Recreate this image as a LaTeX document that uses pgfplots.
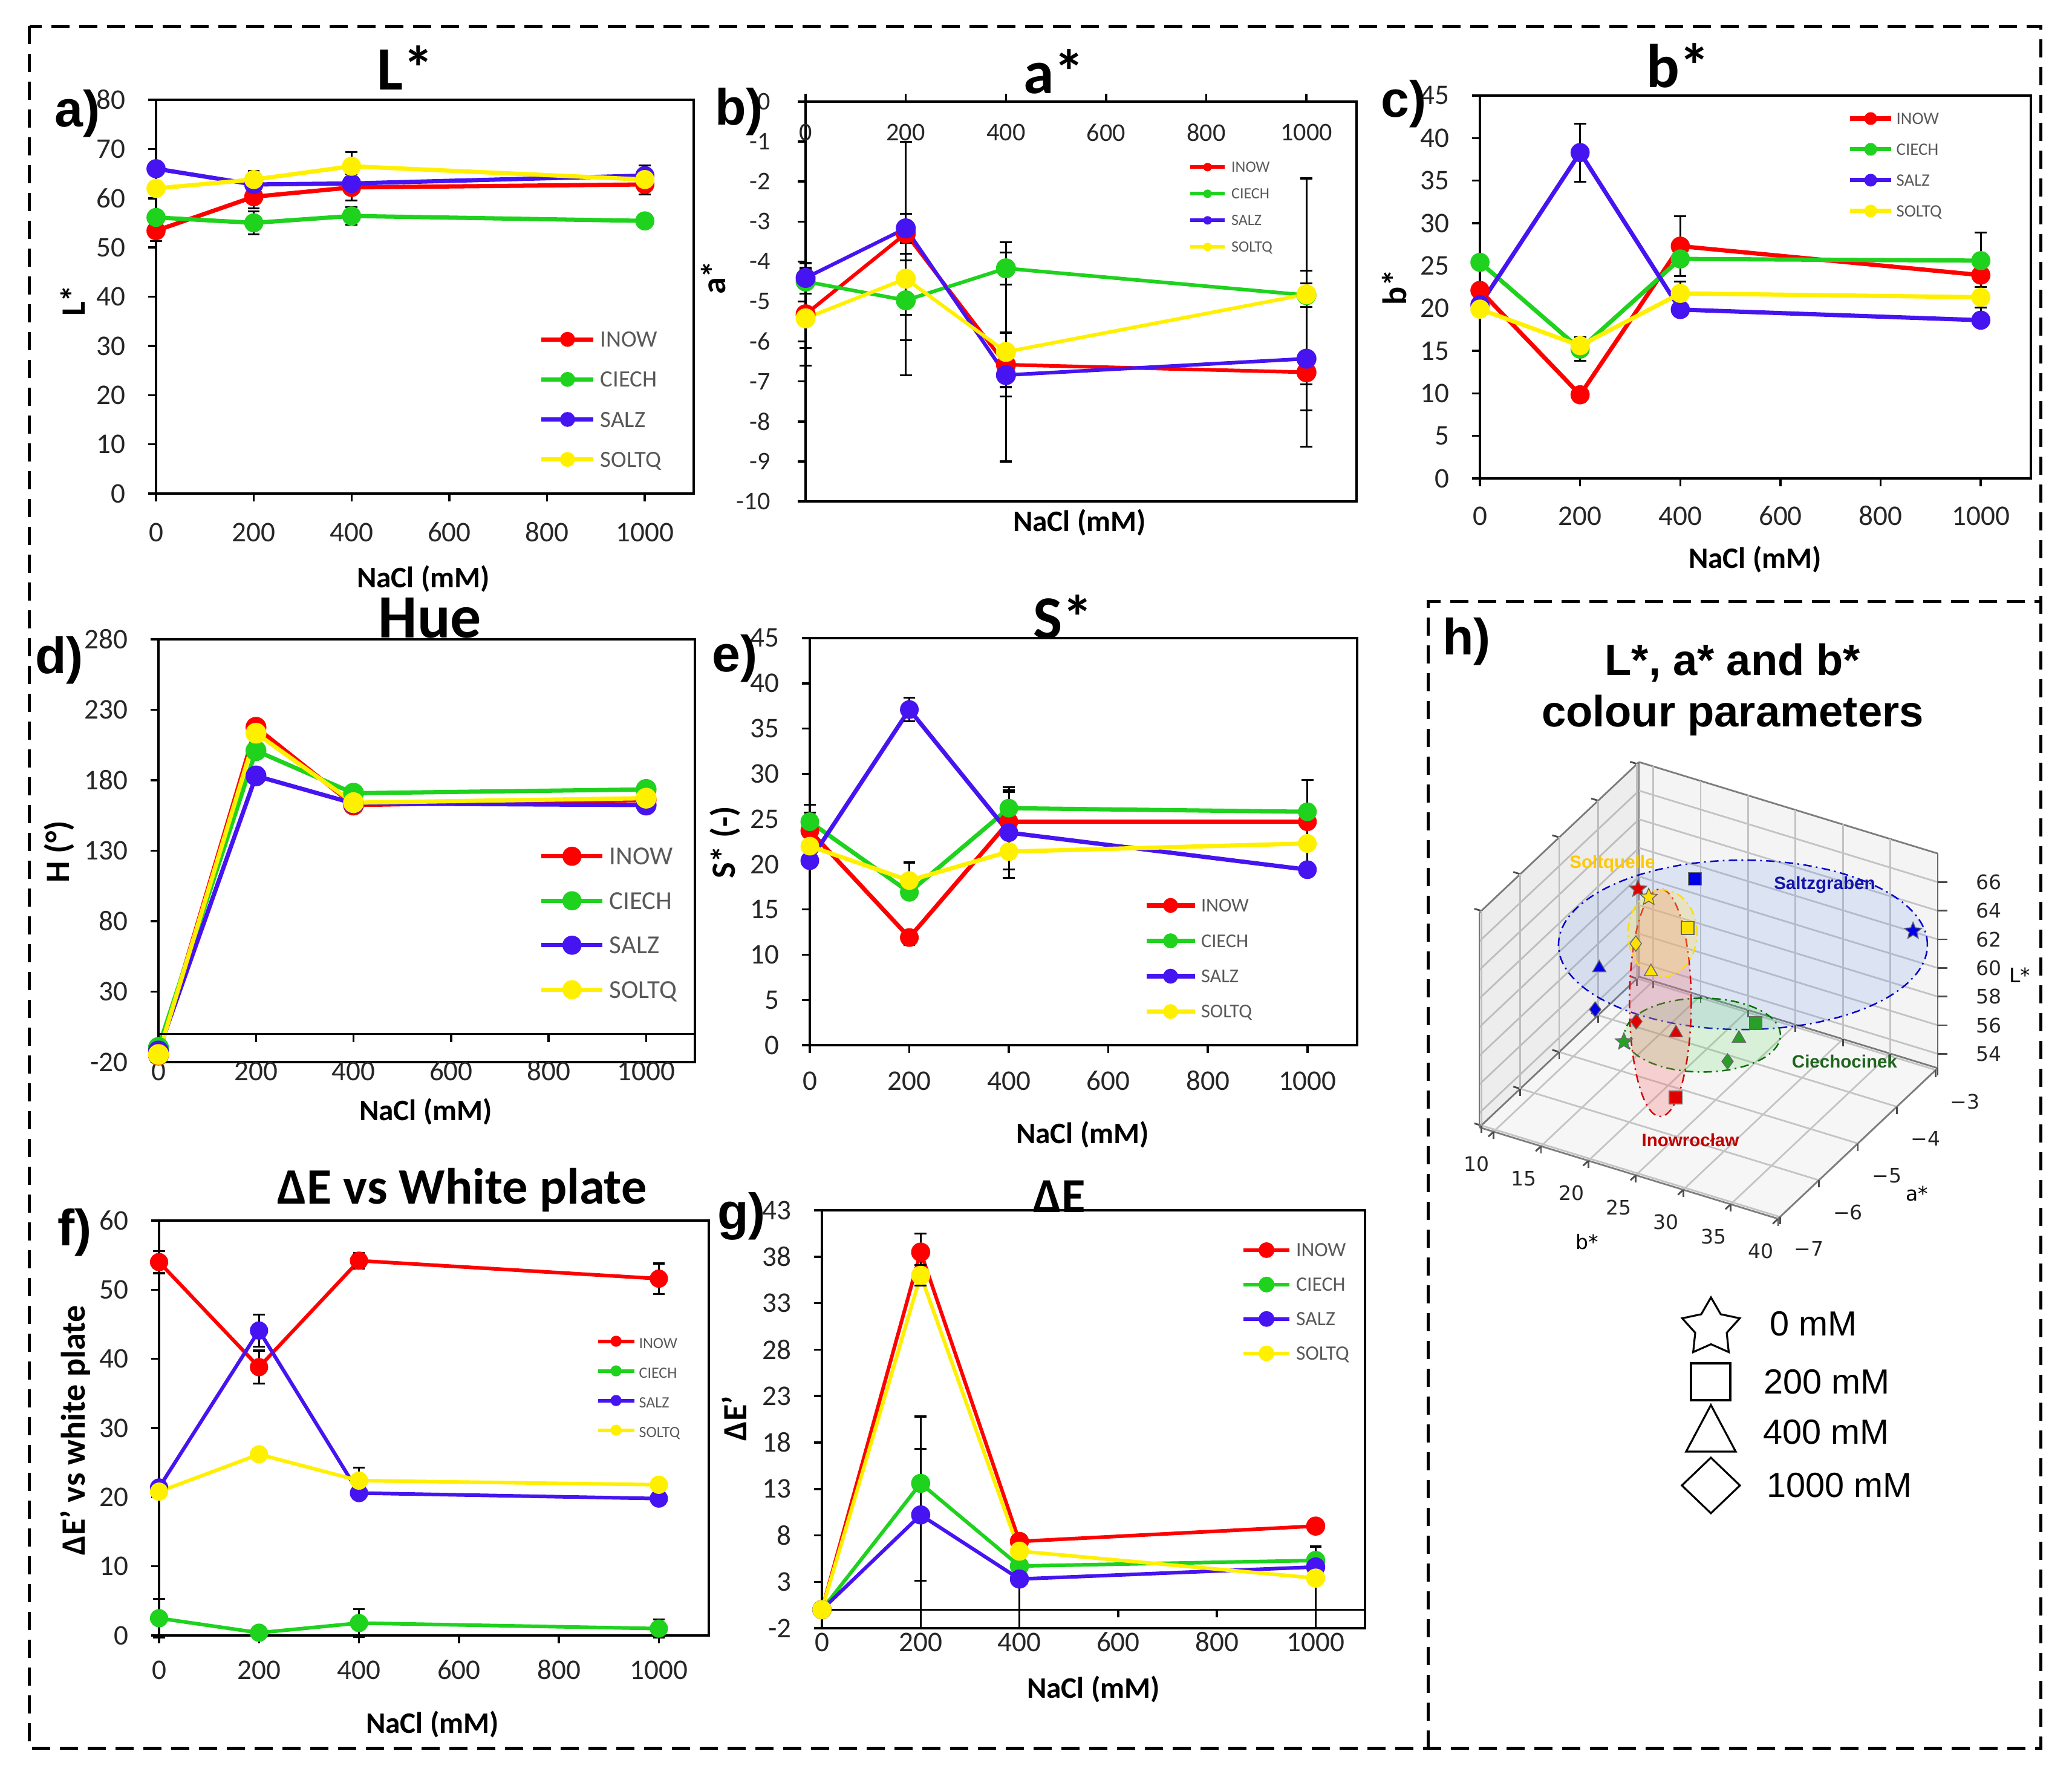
\documentclass[border=0pt]{standalone}
\usepackage{fontspec}
\setmainfont{Carlito}
\newfontfamily\arialfont{Liberation Sans}
\newfontfamily\dvfont{DejaVu Sans}
\usepackage{pgfplots}
\pgfplotsset{compat=1.18}
\usetikzlibrary{plotmarks}
\newcommand{\fs}[1]{\fontsize{#1}{#1}\selectfont}

\definecolor{cI}{RGB}{255,0,0}
\definecolor{cC}{RGB}{30,210,30}
\definecolor{cS}{RGB}{70,20,240}
\definecolor{cQ}{RGB}{255,240,0}
\definecolor{hR}{RGB}{225,0,0}
\definecolor{hG}{RGB}{40,160,40}
\definecolor{hB}{RGB}{0,0,230}
\definecolor{hY}{RGB}{255,225,0}

\pgfdeclareplotmark{fstar}{%
  \pgfpathmoveto{\pgfpointpolar{90}{\pgfplotmarksize}}%
  \pgfpathlineto{\pgfpointpolar{126}{0.45\pgfplotmarksize}}%
  \pgfpathlineto{\pgfpointpolar{162}{\pgfplotmarksize}}%
  \pgfpathlineto{\pgfpointpolar{198}{0.45\pgfplotmarksize}}%
  \pgfpathlineto{\pgfpointpolar{234}{\pgfplotmarksize}}%
  \pgfpathlineto{\pgfpointpolar{270}{0.45\pgfplotmarksize}}%
  \pgfpathlineto{\pgfpointpolar{306}{\pgfplotmarksize}}%
  \pgfpathlineto{\pgfpointpolar{342}{0.45\pgfplotmarksize}}%
  \pgfpathlineto{\pgfpointpolar{18}{\pgfplotmarksize}}%
  \pgfpathlineto{\pgfpointpolar{54}{0.45\pgfplotmarksize}}%
  \pgfpathclose
  \pgfusepathqfillstroke}

\pgfplotsset{
  sI/.style={color=cI, mark=*, mark options={solid, fill=cI, draw=cI, line width=0.3pt}},
  sC/.style={color=cC, mark=*, mark options={solid, fill=cC, draw=cC, line width=0.3pt}},
  sS/.style={color=cS, mark=*, mark options={solid, fill=cS, draw=cS, line width=0.3pt}},
  sQ/.style={color=cQ, mark=*, mark options={solid, fill=cQ, draw=cQ, line width=0.3pt}},
  panel/.style={
    scale only axis, clip=false, anchor=south west,
    xmin=0, xmax=1100, xtick={0,200,...,1000},
    tick pos=left, tick align=outside, major tick length=0.65mm,
    axis line style={line width=0.5pt}, tick style={line width=0.5pt, black},
    /pgf/number format/assume math mode=true, /pgf/number format/1000 sep={},
    tick label style={font=\fs{6.7}, text=black!85, inner sep=0pt},
    xticklabel style={anchor=center},
    yticklabel style={anchor=east, xshift=-1.8mm},
    every axis plot/.append style={line width=1pt, mark size=2.1pt},
    error bars/y dir=both, error bars/y explicit,
    error bars/error bar style={black, line width=0.45pt, solid},
    error bars/error mark options={rotate=90, mark size=1.4pt, black, line width=0.45pt},
    legend cell align=left,
  },
  leg/.style n args={8}{
    legend style={at={(#1,#2)}, anchor=north west, draw=none, fill=none,
      inner sep=0pt, outer sep=0pt, row sep=#3, column sep=#4, font=\fs{#5},
      nodes={inner sep=0pt, text height=#6, text depth=0pt, text=black!65}},
    legend image code/.code={\draw[mark repeat=2, mark phase=2, ##1]
      plot coordinates {(0,0) (#7,0) (2*#7,0)};},
    legend image post style={mark size=#8},
  },
  hm/.style n args={3}{only marks, mark=#1, mark size=#2, mark options={fill=#3, draw=black!60, line width=0.2pt}},
}

\begin{document}
\begin{tikzpicture}
\useasboundingbox (0,0) rectangle (171.3mm,-146.85mm);

% a) L*
\begin{axis}[panel, at={(12.9mm,-40.8mm)}, width=44.45mm, height=32.55mm,
  ymin=0, ymax=80, ytick={0,10,...,80}, xticklabel style={yshift=-2.55mm},
  leg={0.713}{0.411}{2.05mm}{0.4mm}{5.5}{1.26mm}{2.15mm}{1.6pt}]
\addplot[sI] coordinates {(0,53.4) +- (0,2.1) (200,60.3) +- (0,2.4) (400,62.2) +- (0,2.7) (1000,62.8) +- (0,2.0)};
\addlegendentry{INOW}
\addplot[sC] coordinates {(0,56.1) +- (0,0.5) (200,55.0) +- (0,2.3) (400,56.4) +- (0,1.8) (1000,55.4) +- (0,0.3)};
\addlegendentry{CIECH}
\addplot[sS] coordinates {(0,66.0) +- (0,0.4) (200,62.8) +- (0,0.5) (400,63.0) +- (0,0.5) (1000,64.6) +- (0,2.1)};
\addlegendentry{SALZ}
\addplot[sQ] coordinates {(0,62.0) +- (0,0.5) (200,63.8) +- (0,1.7) (400,66.5) +- (0,2.9) (1000,63.8) +- (0,1.0)};
\addlegendentry{SOLTQ}
\end{axis}

% b) a*
\begin{axis}[panel, at={(66.6mm,-41.45mm)}, width=45.55mm, height=33.05mm,
  ymin=-10, ymax=0, ytick={-10,-9,...,0},
  xtick pos=right, xticklabel pos=right, xticklabel style={yshift=-3.2mm},
  yticklabel style={xshift=-0.4mm},
  tick label style={font=\fs{6.0}},
  every axis plot/.append style={line width=0.85pt, mark size=2.2pt},
  leg={0.695}{0.849}{1.35mm}{0.4mm}{3.7}{0.85mm}{1.425mm}{0.85pt}]
\addplot[sI] coordinates {(0,-5.32) +- (0,1.28) (200,-3.30) +- (0,0.5) (400,-6.58) +- (0,0.8) (1000,-6.77) +- (0,0.3)};
\addlegendentry{INOW}
\addplot[sC] coordinates {(0,-4.50) +- (0,0.3) (200,-4.97) +- (0,1.0) (400,-4.17) +- (0,0.4) (1000,-4.84) +- (0,0.3)};
\addlegendentry{CIECH}
\addplot[sS] coordinates {(0,-4.41) +- (0,0.25) (200,-3.17) += (0,2.17) -= (0,3.68) (400,-6.84) +- (0,0.3) (1000,-6.43) +- (0,2.2)};
\addlegendentry{SALZ}
\addplot[sQ] coordinates {(0,-5.42) +- (0,0.75) (200,-4.43) +- (0,0.9) (400,-6.26) +- (0,2.74) (1000,-4.82) +- (0,2.9)};
\addlegendentry{SOLTQ}
\end{axis}

% c) b*
\begin{axis}[panel, at={(122.35mm,-39.55mm)}, width=45.55mm, height=31.65mm,
  ymin=0, ymax=45, ytick={0,5,...,45}, xticklabel style={yshift=-2.45mm},
  leg={0.668}{0.955}{1.6mm}{0.25mm}{4.1}{0.94mm}{1.7mm}{1.35pt}]
\addplot[sI] coordinates {(0,22.1) +- (0,0.5) (200,9.83) +- (0,0.5) (400,27.3) +- (0,3.5) (1000,23.9) +- (0,5.0)};
\addlegendentry{INOW}
\addplot[sC] coordinates {(0,25.4) +- (0,0.4) (200,15.2) +- (0,1.4) (400,25.8) +- (0,0.4) (1000,25.6) +- (0,0.4)};
\addlegendentry{CIECH}
\addplot[sS] coordinates {(0,20.4) +- (0,0.3) (200,38.3) +- (0,3.4) (400,19.85) +- (0,0.3) (1000,18.6) +- (0,0.3)};
\addlegendentry{SALZ}
\addplot[sQ] coordinates {(0,19.9) +- (0,0.4) (200,15.6) +- (0,0.5) (400,21.75) +- (0,1.4) (1000,21.3) +- (0,1.2)};
\addlegendentry{SOLTQ}
\end{axis}

% d) Hue
\begin{axis}[panel, at={(13.1mm,-87.8mm)}, width=44.35mm, height=34.95mm,
  ymin=-20, ymax=280, ytick={-20,30,...,280}, xtick style={draw=none},
  xticklabel style={yshift=-0.1mm}, error bars/y dir=none,
  every axis plot/.append style={mark size=2.3pt},
  leg={0.710}{0.508}{2.2mm}{0.4mm}{6.1}{1.4mm}{2.525mm}{2.1pt}]
\addplot[sI] coordinates {(0,-15) (200,217.6) (400,162.4) (1000,166)};
\addlegendentry{INOW}
\addplot[sC] coordinates {(0,-9.6) (200,201) (400,170.8) (1000,173.5)};
\addlegendentry{CIECH}
\addplot[sS] coordinates {(0,-12.1) (200,183.1) (400,163.6) (1000,162.4)};
\addlegendentry{SALZ}
\addplot[sQ] coordinates {(0,-14.6) (200,213.4) (400,164.1) (1000,167.3)};
\addlegendentry{SOLTQ}
\draw[line width=0.5pt] (axis cs:0,0) -- (axis cs:1100,0);
\pgfplotsinvokeforeach{0,200,400,600,800,1000}{\draw[line width=0.5pt] (axis cs:#1,0) -- (axis cs:#1,-5.6);}
\end{axis}

% e) S*
\begin{axis}[panel, at={(66.95mm,-86.4mm)}, width=45.25mm, height=33.65mm,
  ymin=0, ymax=45, ytick={0,5,...,45}, xticklabel style={yshift=-2.3mm},
  every axis plot/.append style={mark size=2.05pt},
  leg={0.611}{0.360}{1.8mm}{0.35mm}{4.6}{1.05mm}{2mm}{1.6pt}]
\addplot[sI] coordinates {(0,23.7) +- (0,2.9) (200,11.9) +- (0,0.8) (400,24.7) +- (0,3.5) (1000,24.7) +- (0,4.6)};
\addlegendentry{INOW}
\addplot[sC] coordinates {(0,24.7) +- (0,1.0) (200,16.9) +- (0,0.6) (400,26.2) +- (0,1.8) (1000,25.8) +- (0,0.4)};
\addlegendentry{CIECH}
\addplot[sS] coordinates {(0,20.4) +- (0,0.3) (200,37.1) +- (0,1.3) (400,23.5) +- (0,5.0) (1000,19.4) +- (0,0.6)};
\addlegendentry{SALZ}
\addplot[sQ] coordinates {(0,22.0) +- (0,0.5) (200,18.2) +- (0,2.0) (400,21.4) +- (0,2.0) (1000,22.3) +- (0,0.5)};
\addlegendentry{SOLTQ}
\end{axis}

% f) Delta E vs white plate
\begin{axis}[panel, at={(13.15mm,-135.2mm)}, width=45.45mm, height=34.3mm,
  ymin=0, ymax=60, ytick={0,10,...,60}, xticklabel style={yshift=-2.2mm},
  every axis plot/.append style={line width=0.85pt, mark size=2pt},
  leg={0.795}{0.721}{1.45mm}{0.25mm}{3.7}{0.85mm}{1.5mm}{1.15pt}]
\addplot[sI] coordinates {(0,54.0) +- (0,1.6) (200,38.8) +- (0,2.4) (400,54.2) +- (0,1.1) (1000,51.6) +- (0,2.2)};
\addlegendentry{INOW}
\addplot[sC] coordinates {(0,2.5) +- (0,2.8) (200,0.4) +- (0,0.3) (400,1.8) +- (0,2.0) (1000,1.0) +- (0,1.3)};
\addlegendentry{CIECH}
\addplot[sS] coordinates {(0,21.4) +- (0,0.3) (200,44.1) +- (0,2.3) (400,20.6) +- (0,0.3) (1000,19.8) +- (0,0.3)};
\addlegendentry{SALZ}
\addplot[sQ] coordinates {(0,20.8) +- (0,0.3) (200,26.2) +- (0,0.5) (400,22.4) +- (0,1.9) (1000,21.8) +- (0,0.5)};
\addlegendentry{SOLTQ}
\end{axis}

% g) Delta E
\begin{axis}[panel, at={(67.95mm,-134.6mm)}, width=44.9mm, height=34.55mm,
  ymin=-2, ymax=43, ytick={-2,3,...,43}, xtick style={draw=none},
  xticklabel style={yshift=-0.5mm},
  every axis plot/.append style={line width=0.85pt, mark size=2.1pt},
  leg={0.773}{0.922}{1.65mm}{0.4mm}{4.8}{1.1mm}{1.9mm}{1.7pt}]
\addplot[sI] coordinates {(0,0) (200,38.5) +- (0,2.0) (400,7.35) +- (0,0.5) (1000,9.0) +- (0,0.5)};
\addlegendentry{INOW}
\addplot[sC] coordinates {(0,0) (200,13.6) += (0,7.2) -= (0,15.6) (400,4.7) +- (0,0.5) (1000,5.3) +- (0,0.5)};
\addlegendentry{CIECH}
\addplot[sS] coordinates {(0,0) (200,10.2) +- (0,7.1) (400,3.3) += (0,0.4) -= (0,5.3) (1000,4.6) +- (0,0.5)};
\addlegendentry{SALZ}
\addplot[sQ] coordinates {(0,0) (200,36.0) +- (0,1.1) (400,6.3) +- (0,0.5) (1000,3.4) += (0,3.4) -= (0,5.4)};
\addlegendentry{SOLTQ}
\draw[line width=0.5pt] (axis cs:0,0) -- (axis cs:1100,0);
\pgfplotsinvokeforeach{0,200,400,600,800,1000}{\draw[line width=0.5pt] (axis cs:#1,0) -- (axis cs:#1,-0.85);}
\end{axis}

% h) 3D scatter of b*, a*, L*
\begin{axis}[name=h3d, clip=false,
  at={(122.3mm,-100.75mm)}, anchor=south west,
  x={(0.784mm,-0.240mm)}, y={(3.220mm,3.037mm)}, z={(0mm,1.183mm)},
  xmin=8.5, xmax=40, ymin=-7.05, ymax=-2.95, zmin=53, zmax=68,
  xtick={10,15,...,40}, ytick={-7,-6,...,-3}, ztick={54,56,...,66},
  yticklabels={−7,−6,−5,−4,−3}, zticklabels={},
  tick pos=left, ztick style={draw=none},
  grid=major, major grid style={black!20, line width=0.4pt},
  axis line style={black!50, line width=0.4pt},
  tick style={black!70, line width=0.4pt}, major tick length=0.6mm, tick align=outside,
  /pgf/number format/assume math mode=true,
  tick label style={font=\dvfont\fs{4.7}, text=black!85},
]
% panes
\fill[black, fill opacity=0.07] (axis cs:8.5,-7.05,53) -- (axis cs:8.5,-2.95,53) -- (axis cs:8.5,-2.95,68) -- (axis cs:8.5,-7.05,68) -- cycle;
\fill[black, fill opacity=0.045] (axis cs:8.5,-2.95,53) -- (axis cs:40,-2.95,53) -- (axis cs:40,-2.95,68) -- (axis cs:8.5,-2.95,68) -- cycle;
\fill[black, fill opacity=0.035] (axis cs:8.5,-7.05,53) -- (axis cs:40,-7.05,53) -- (axis cs:40,-2.95,53) -- (axis cs:8.5,-2.95,53) -- cycle;
% z axis on the right back edge
\draw[black!60, line width=0.4pt] (axis cs:40,-2.95,53) -- (axis cs:40,-2.95,68);
\pgfplotsinvokeforeach{54,56,58,60,62,64,66}{%
  \draw[black!70, line width=0.4pt] (axis cs:40,-2.95,#1) -- ([xshift=0.8mm]axis cs:40,-2.95,#1);
  \node[font=\dvfont\fs{4.7}, text=black!85, anchor=west, inner sep=0pt, xshift=3.1mm] at (axis cs:40,-2.95,#1) {#1};}
% cluster outlines
\draw[fill={rgb,255:red,110;green,150;blue,235}, fill opacity=0.18, draw=blue!80!black,
  line width=0.35pt, dash pattern=on 2pt off 1pt on 0.4pt off 1pt] (axis cs:22.54,-3.70,60) ellipse [x radius=15.25mm, y radius=7mm];
\draw[fill={rgb,255:red,90;green,215;blue,90}, fill opacity=0.2, draw=green!45!black,
  line width=0.35pt, dash pattern=on 2pt off 1pt on 0.4pt off 1pt] (axis cs:26.93,-5.81,60) ellipse [x radius=6.45mm, y radius=3.05mm];
\draw[fill={rgb,255:red,245;green,110;blue,110}, fill opacity=0.28, draw=red!85!black,
  line width=0.35pt, dash pattern=on 2pt off 1pt on 0.4pt off 1pt] (axis cs:20.85,-5.41,60) ellipse [x radius=2.55mm, y radius=9.4mm];
\draw[fill={rgb,255:red,255;green,225;blue,90}, fill opacity=0.3, draw=yellow!80!orange,
  line width=0.35pt, dash pattern=on 2pt off 1pt on 0.4pt off 1pt] (axis cs:15.16,-3.97,60) ellipse [x radius=2.85mm, y radius=3.6mm];
% Inowroclaw
\addplot3[hm={square*}{1.5pt}{hR}] coordinates {(22.1,-5.32,53.4)};
\addplot3[hm={fstar}{2.1pt}{hR}] coordinates {(9.83,-3.30,60.3)};
\addplot3[hm={triangle*}{1.8pt}{hR}] coordinates {(27.3,-6.58,62.2)};
\addplot3[hm={diamond*}{1.8pt}{hR}] coordinates {(23.9,-6.77,62.8)};
% Ciechocinek
\addplot3[hm={triangle*}{1.8pt}{hG}] coordinates {(25.4,-4.50,56.1)};
\addplot3[hm={fstar}{2.1pt}{hG}] coordinates {(15.2,-4.97,55.0)};
\addplot3[hm={square*}{1.5pt}{hG}] coordinates {(25.8,-4.17,56.4)};
\addplot3[hm={diamond*}{1.8pt}{hG}] coordinates {(25.6,-4.84,55.4)};
% Saltzgraben
\addplot3[hm={square*}{1.5pt}{hB}] coordinates {(20.4,-4.41,66.0)};
\addplot3[hm={fstar}{2.1pt}{hB}] coordinates {(38.3,-3.17,62.8)};
\addplot3[hm={diamond*}{1.8pt}{hB}] coordinates {(19.85,-6.84,63.0)};
\addplot3[hm={triangle*}{1.8pt}{hB}] coordinates {(18.6,-6.43,64.6)};
% Soltquelle
\addplot3[hm={triangle*}{1.8pt}{hY}] coordinates {(19.9,-5.42,62.0)};
\addplot3[hm={fstar}{2.1pt}{hY}] coordinates {(15.6,-4.43,63.8)};
\addplot3[hm={diamond*}{1.8pt}{hY}] coordinates {(21.75,-6.26,66.5)};
\addplot3[hm={square*}{1.5pt}{hY}] coordinates {(21.3,-4.82,63.8)};
\end{axis}

\begin{scope}[x=0.05mm, y=-0.05mm]
% frames
\draw[line width=0.25mm, dash pattern=on 1.5mm off 0.8mm] (49,43) rectangle (3375,2891);
\draw[line width=0.25mm, dash pattern=on 1.5mm off 0.8mm] (2362,2891) -- (2362,995) -- (3375,995);
% titles
\node[font=\fs{14.5}\bfseries, inner sep=0pt] at (670,112) {L*};
\node[font=\fs{14.5}\bfseries, inner sep=0pt] at (1743,118) {a*};
\node[font=\fs{14.5}\bfseries, inner sep=0pt] at (2775,108) {b*};
\node[font=\fs{14.5}\bfseries, inner sep=0pt] at (711,1022) {Hue};
\node[font=\fs{14.5}\bfseries, inner sep=0pt] at (1758,1020) {S*};
\node[font=\fs{12}\bfseries, inner sep=0pt] at (764,1968) {ΔE vs White plate};
\node[font=\fs{11.5}\bfseries, inner sep=0pt] at (1752,1978) {ΔE};
% panel letters
\node[font=\arialfont\bfseries\fs{12}, inner sep=0pt] at (128,188) {a)};
\node[font=\arialfont\bfseries\fs{12}, inner sep=0pt] at (1222,185) {b)};
\node[font=\arialfont\bfseries\fs{12}, inner sep=0pt] at (2321,172) {c)};
\node[font=\arialfont\bfseries\fs{12}, inner sep=0pt] at (98,1092) {d)};
\node[font=\arialfont\bfseries\fs{12}, inner sep=0pt] at (1215,1089) {e)};
\node[font=\arialfont\bfseries\fs{12}, inner sep=0pt] at (124,2038) {f)};
\node[font=\arialfont\bfseries\fs{12}, inner sep=0pt] at (1226,2011) {g)};
\node[font=\arialfont\bfseries\fs{12}, inner sep=0pt] at (2425,1061) {h)};
% axis labels
\node[font=\fs{7}\bfseries, inner sep=0pt] at (700,957) {NaCl (mM)};
\node[font=\fs{7}\bfseries, inner sep=0pt] at (1785,864) {NaCl (mM)};
\node[font=\fs{7}\bfseries, inner sep=0pt] at (2902,925) {NaCl (mM)};
\node[font=\fs{7}\bfseries, inner sep=0pt] at (704,1838) {NaCl (mM)};
\node[font=\fs{7}\bfseries, inner sep=0pt] at (1790,1876) {NaCl (mM)};
\node[font=\fs{7}\bfseries, inner sep=0pt] at (715,2851) {NaCl (mM)};
\node[font=\fs{7}\bfseries, inner sep=0pt] at (1808,2793) {NaCl (mM)};
\node[font=\fs{8}\bfseries, inner sep=0pt, rotate=90] at (120,497) {L*};
\node[font=\fs{8}\bfseries, inner sep=0pt, rotate=90] at (1180,459) {a*};
\node[font=\fs{8}\bfseries, inner sep=0pt, rotate=90] at (2306,475) {b*};
\node[font=\fs{8}\bfseries, inner sep=0pt, rotate=90] at (98,1408) {H (°)};
\node[font=\fs{8}\bfseries, inner sep=0pt, rotate=90] at (1199,1393) {S* (-)};
\node[font=\fs{8}\bfseries, inner sep=0pt, rotate=90] at (124,2365) {ΔE' vs white plate};
\node[font=\fs{8}\bfseries, inner sep=0pt, rotate=90] at (1214,2345) {ΔE'};
% h) texts
\node[font=\arialfont\bfseries\fs{10.3}, inner sep=0pt] at (2865,1096) {L*, a* and b*};
\node[font=\arialfont\bfseries\fs{10.3}, inner sep=0pt] at (2865,1183) {colour parameters};
\node[font=\arialfont\bfseries\fs{4.2}, text={rgb,255:red,255;green,200;blue,0}, inner sep=0pt] at (2666,1428) {Soltquelle};
\node[font=\arialfont\bfseries\fs{4.2}, text={rgb,255:red,20;green,20;blue,170}, inner sep=0pt] at (3017,1463) {Saltzgraben};
\node[font=\arialfont\bfseries\fs{4.2}, text={rgb,255:red,30;green,100;blue,30}, inner sep=0pt] at (3050,1755) {Ciechocinek};
\node[font=\arialfont\bfseries\fs{4.2}, text={rgb,255:red,190;green,0;blue,0}, inner sep=0pt] at (2795,1885) {Inowrocław};
\node[font=\dvfont\fs{4.7}, inner sep=0pt] at (2624,2053) {b*};
\node[font=\dvfont\fs{4.7}, inner sep=0pt] at (3170,1973) {a*};
\node[font=\dvfont\fs{4.7}, inner sep=0pt] at (3340,1612) {L*};
% h) marker key
\draw[line width=0.45pt, line join=miter] (2796,2254) rectangle (2861,2315);
\draw[line width=0.45pt, line join=miter] (2829,2323) -- (2870,2400) -- (2788,2400) -- cycle;
\draw[line width=0.45pt, line join=miter] (2829,2410) -- (2877,2456) -- (2829,2502) -- (2781,2456) -- cycle;
\node[font=\arialfont\fs{8.2}, anchor=west, inner sep=0pt] at (2925,2189) {0 mM};
\node[font=\arialfont\fs{8.2}, anchor=west, inner sep=0pt] at (2915,2285) {200 mM};
\node[font=\arialfont\fs{8.2}, anchor=west, inner sep=0pt] at (2914,2368) {400 mM};
\node[font=\arialfont\fs{8.2}, anchor=west, inner sep=0pt] at (2920,2456) {1000 mM};
\end{scope}
\begin{scope}[shift={(141.45mm,-109.75mm)}]
\draw[line width=0.45pt, line join=miter] (90:2.5mm) -- (126:1.37mm) -- (162:2.5mm) -- (198:1.37mm) -- (234:2.5mm) -- (270:1.37mm) -- (306:2.5mm) -- (342:1.37mm) -- (18:2.5mm) -- (54:1.37mm) -- cycle;
\end{scope}
\end{tikzpicture}
\end{document}
